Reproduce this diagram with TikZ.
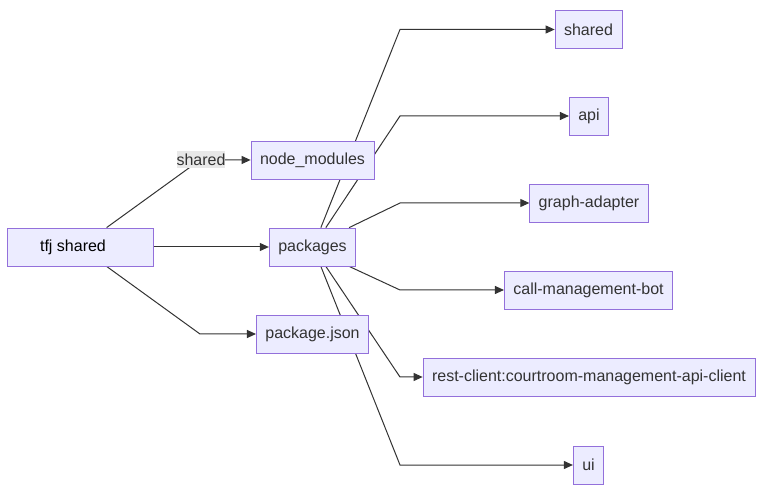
\documentclass[tikz,border=0pt]{standalone}
\usepackage{fontspec}
\setmainfont{Liberation Sans}
\usetikzlibrary{arrows.meta,backgrounds}
\definecolor{boxfill}{HTML}{ECECFF}
\definecolor{boxline}{HTML}{9370DB}
\definecolor{ink}{HTML}{333333}
\definecolor{lblfill}{HTML}{E8E8E8}
\tikzset{
  pkgbox/.style={draw=boxline,fill=boxfill,line width=0.8pt,minimum height=38pt,
    inner xsep=9pt,text=ink,font=\fontsize{16}{19}\selectfont},
  dep/.style={draw=ink,line width=1pt,-{Triangle[length=9pt,width=8pt]}},
  deplabel/.style={fill=lblfill,text=ink,inner xsep=0pt,inner ysep=0pt,
    minimum height=17pt,font=\fontsize{16}{19}\selectfont}
}

\begin{document}
\begin{tikzpicture}[x=1pt,y=-1pt]
\useasboundingbox (0,0) rectangle (769,494);
\node[pkgbox,minimum width=146pt,text=black] (tfj) at (80,247) {\hspace*{-14pt}tfj shared};
\node[pkgbox] (nodemods) at (312.5,160) {node\_modules};
\node[pkgbox] (pkgs) at (312.5,247) {packages};
\node[pkgbox] (pkgjson) at (312.5,334) {package.json};
\node[pkgbox] (shared) at (588.5,29.5) {shared};
\node[pkgbox] (api) at (589,116) {api};
\node[pkgbox] (graph) at (589,203) {graph-adapter};
\node[pkgbox] (callbot) at (588.5,290) {call-management-bot};
\node[pkgbox] (rest) at (589,377) {rest-client:courtroom-management-api-client};
\node[pkgbox] (ui) at (588.5,465) {ui};
\coordinate (left split) at (200,0);
\coordinate (right split) at (400,0);
\begin{scope}[on background layer]
\draw[dep] ([xshift=100pt]tfj.north west) -- (left split |- nodemods.west) -- (nodemods.west);
\draw[dep] (tfj.east) -- (pkgs.west);
\draw[dep] ([xshift=100pt]tfj.south west) -- (left split |- pkgjson.west) -- (pkgjson.west);
\draw[dep] ([xshift=52pt]pkgs.north west) -- (right split |- shared.west) -- (shared.west);
\draw[dep] ([xshift=57pt]pkgs.north west) -- (right split |- api.west) -- (api.west);
\draw[dep] ([xshift=-7pt]pkgs.north east) -- (right split |- graph.west) -- (graph.west);
\draw[dep] ([xshift=-7pt]pkgs.south east) -- (right split |- callbot.west) -- (callbot.west);
\draw[dep] ([xshift=57pt]pkgs.south west) -- (right split |- rest.west) -- (rest.west);
\draw[dep] ([xshift=52pt]pkgs.south west) -- (right split |- ui.west) -- (ui.west);
\end{scope}
\node[deplabel] (sharedlbl) at (201,159.5) {shared};
\end{tikzpicture}
\end{document}
